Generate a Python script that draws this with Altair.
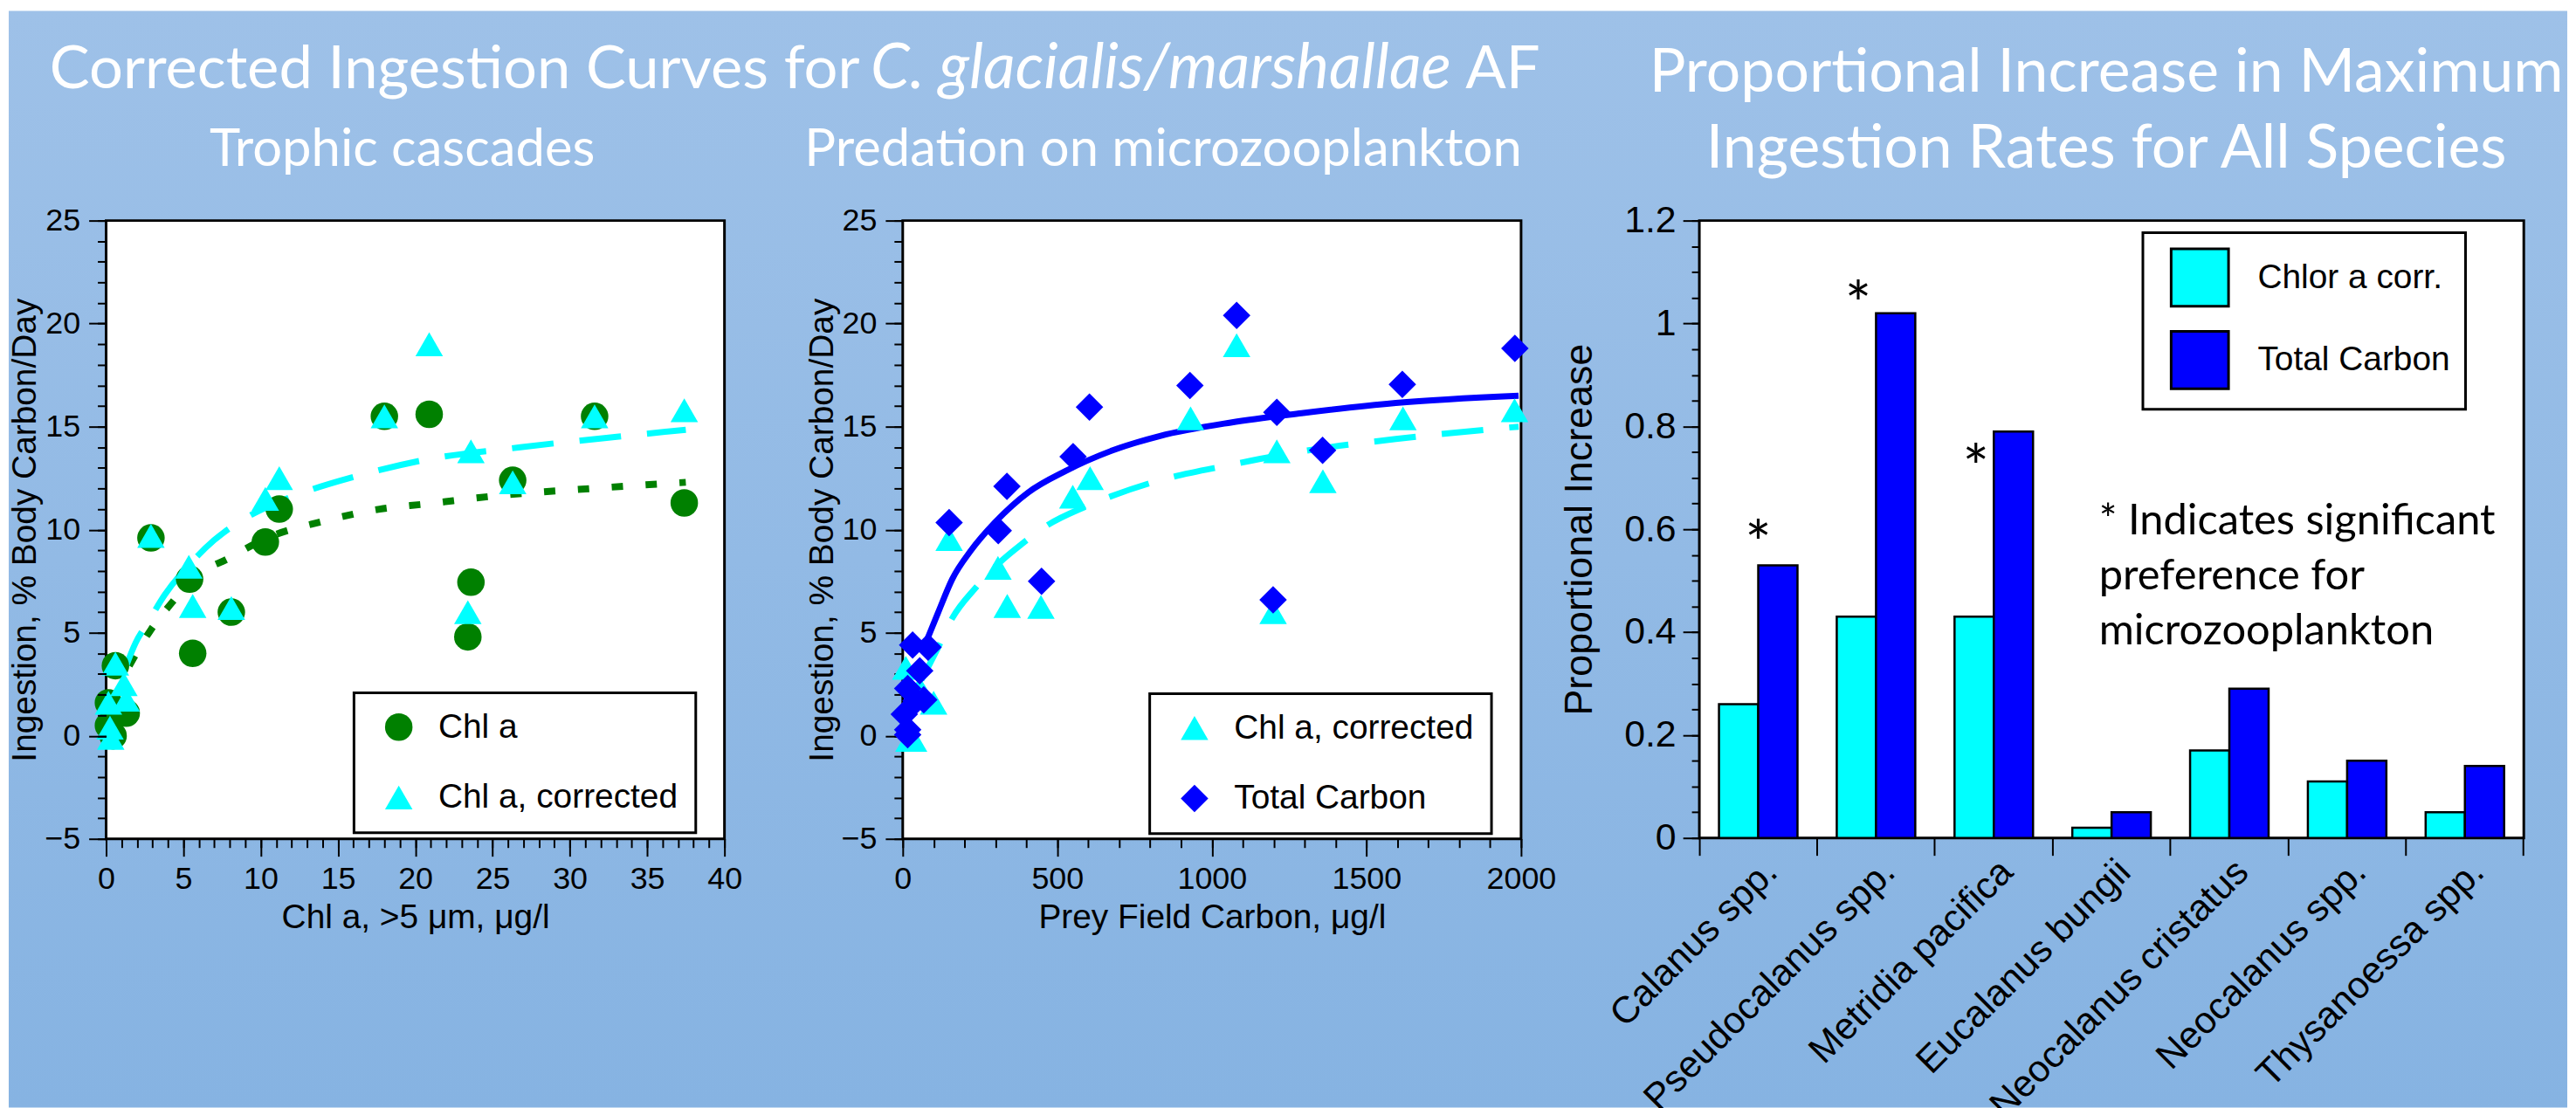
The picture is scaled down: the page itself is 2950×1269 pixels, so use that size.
import altair as alt
import pandas as pd

# ---------------- data ----------------
# Panel 1: Trophic cascades (x = Chl a >5um, y = ingestion)
p1_chl_x = [0.15, 0.6, 0.15, 0.45, 1.3, 2.9, 5.4, 5.6, 8.1, 10.3, 11.2, 18.0, 20.9, 23.6, 23.4, 26.3, 31.6, 37.4]
p1_chl_y = [1.6, 3.4, 0.5, 0.0, 1.1, 9.6, 7.6, 4.0, 6.0, 9.4, 11.0, 15.5, 15.6, 7.45, 4.8, 12.4, 15.5, 11.3]
p1_cor_x = [0.6, 0.15, 1.15, 1.3, 0.25, 0.3, 2.9, 5.35, 5.6, 8.1, 10.3, 11.2, 18.0, 20.9, 23.6, 23.4, 26.3, 31.6, 37.4]
p1_cor_y = [3.5, 1.6, 2.5, 1.75, 0.4, -0.1, 9.7, 8.2, 6.3, 6.2, 11.5, 12.5, 15.5, 19.0, 13.8, 6.0, 12.3, 15.5, 15.8]
p1_fit_cor_x = [1.2, 1.9, 2.7, 3.8, 5.5, 7.0, 9.1, 11.0, 13.1, 16.2, 20.7, 26.8, 32.9, 37.5]
p1_fit_cor_y = [3.2, 4.5, 5.5, 6.85, 8.4, 9.5, 10.6, 11.3, 11.9, 12.6, 13.4, 14.0, 14.5, 14.85]
p1_fit_chl_x = [1.5, 2.9, 4.3, 5.7, 7.9, 10.4, 14.0, 17.7, 20.7, 25.3, 31.4, 37.5]
p1_fit_chl_y = [3.4, 5.15, 6.5, 7.7, 8.6, 9.6, 10.4, 11.0, 11.25, 11.65, 12.0, 12.3]

# Panel 2: Predation on microzooplankton (x = prey field carbon)
p2_cor_x = [10, 55, 70, 100, 20, 35, 150, 308, 338, 447, 550, 606, 931, 1080, 1210, 1198, 1359, 1618, 1979]
p2_cor_y = [3.3, 2.3, 1.9, 1.6, -0.2, -0.2, 9.55, 8.15, 6.3, 6.25, 11.6, 12.5, 15.4, 18.95, 13.8, 6.0, 12.35, 15.4, 15.8]
p2_tc_x = [32, 82, 55, 16, 43, 68, 5, 16, 16, 150, 309, 337, 449, 551, 604, 929, 1080, 1210, 1198, 1358, 1616, 1980]
p2_tc_y = [4.4, 4.3, 3.15, 2.3, 1.7, 1.75, 1.05, 0.3, 0.05, 10.35, 9.95, 12.1, 7.5, 13.55, 15.95, 17.0, 20.4, 15.7, 6.6, 13.85, 17.05, 18.8]
p2_fit_tc_x = [77, 115, 160, 221, 298, 405, 527, 679, 832, 1061, 1290, 1595, 1992]
p2_fit_tc_y = [4.6, 6.0, 7.6, 9.0, 10.35, 11.8, 12.85, 13.85, 14.55, 15.2, 15.65, 16.15, 16.5]
p2_fit_cor_x = [60, 115, 160, 237, 313, 389, 466, 588, 679, 832, 1061, 1290, 1595, 1992]
p2_fit_cor_y = [2.7, 4.3, 5.7, 7.2, 8.4, 9.35, 10.2, 11.1, 11.65, 12.4, 13.15, 13.8, 14.4, 15.0]

# Panel 3: proportional increase in maximum ingestion
species = ["Calanus spp.", "Pseudocalanus spp.", "Metridia pacifica", "Eucalanus bungii",
           "Neocalanus cristatus", "Neocalanus spp.", "Thysanoessa spp."]
series3 = ["Chlor a corr.", "Total Carbon"]
chl_corr = [0.26, 0.43, 0.43, 0.02, 0.17, 0.11, 0.05]
total_carbon = [0.53, 1.02, 0.79, 0.05, 0.29, 0.15, 0.14]
sig_mid_species = ["Calanus spp."]
sig_mid_y = [0.529]
sig_left_species = ["Pseudocalanus spp.", "Metridia pacifica"]
sig_left_y = [0.994, 0.676]

# ticks
p1_x_major = [0, 5, 10, 15, 20, 25, 30, 35, 40]
p1_x_minor = list(range(0, 41))
p2_x_major = [0, 500, 1000, 1500, 2000]
p2_x_minor = list(range(0, 2001, 100))
y12_major = [-5, 0, 5, 10, 15, 20, 25]
y12_minor = list(range(-5, 26))
p3_y_major = [0, 0.2, 0.4, 0.6, 0.8, 1.0, 1.2]
p3_y_minor = [round(i * 0.05, 2) for i in range(25)]

# ---------------- style ----------------
HEAD = "Lato"
AX = "Liberation Sans"
CYAN, GREEN, BLUE = "#00FFFF", "#008000", "#0000FF"
BG_TOP, BG_BOTTOM = "#9EC1E8", "#86B3E2"
W1, H1 = 711, 711
W3, H3 = 948, 710
ONE = alt.Data(values=[{"k": 0}])


def ax_major(orient, values, title, lsize=36, tsize=39, lpad=9, tpad=8, tick=20, fmt=None, z=1):
    kw = dict(orient=orient, values=values, tickSize=tick, labelFontSize=lsize, labelPadding=lpad,
              labelFlush=False, labelOverlap=False, title=title, titleFontSize=tsize,
              titlePadding=tpad, zindex=z)
    if fmt:
        kw["format"] = fmt
    return alt.Axis(**kw)


def ax_minor(orient, values, tick=10, z=1):
    return alt.Axis(orient=orient, values=values, tickSize=tick, labels=False, title=None, zindex=z)


def label(text, x, y, size, align="center", style="normal", color="white", font=HEAD, lh=None):
    kw = dict(text=text, align=align, baseline="alphabetic", font=font, fontSize=size,
              fontStyle=style, color=color)
    if lh:
        kw["lineHeight"] = lh
    return alt.Chart(ONE).mark_text(**kw).encode(x=alt.value(x), y=alt.value(y))


def legend12(lx, ly):
    return alt.Legend(title=None, orient="none", legendX=lx, legendY=ly, padding=20,
                      symbolOffset=12, labelOffset=26, rowPadding=41, labelFont=AX,
                      labelFontSize=39, labelColor="black", fillColor="white",
                      strokeColor="black", symbolSize=1000, symbolOpacity=1, labelLimit=1000,
                      labelExpr="datum.label + '\u00a0\u00a0'")


# ---------------- panel 1 ----------------
sx1 = alt.Scale(domain=[0, 40], nice=False, zero=False)
sy12 = alt.Scale(domain=[-5, 25], nice=False, zero=False)

bg = alt.Chart(ONE).mark_rect(
    fill={"gradient": "linear", "x1": 0, "y1": 0, "x2": 0, "y2": 1,
          "stops": [{"offset": 0, "color": BG_TOP}, {"offset": 1, "color": BG_BOTTOM}]},
    strokeWidth=0,
).encode(x=alt.value(-112), x2=alt.value(2830), y=alt.value(-241), y2=alt.value(1020))

frame1 = alt.Chart(ONE).mark_rect(fill="white", stroke="black", strokeWidth=3).encode(
    x=alt.value(0), x2=alt.value(W1), y=alt.value(0), y2=alt.value(H1))

fit1_cor = alt.Chart(pd.DataFrame({"x": p1_fit_cor_x, "y": p1_fit_cor_y})).mark_line(
    color=CYAN, strokeWidth=7, strokeDash=[48, 30], interpolate="monotone", strokeCap="butt"
).encode(x=alt.X("x:Q", scale=sx1, axis=ax_minor("bottom", p1_x_minor)),
         y=alt.Y("y:Q", scale=sy12, axis=ax_minor("left", y12_minor)))

fit1_chl = alt.Chart(pd.DataFrame({"x": p1_fit_chl_x, "y": p1_fit_chl_y})).mark_line(
    color=GREEN, strokeWidth=8, strokeDash=[13, 26], interpolate="monotone", strokeCap="butt"
).encode(x=alt.X("x:Q", scale=sx1, axis=None), y=alt.Y("y:Q", scale=sy12, axis=None))

dom1 = ["Chl a", "Chl a, corrected"]
df1 = pd.DataFrame({"x": p1_chl_x + p1_cor_x, "y": p1_chl_y + p1_cor_y,
                    "s": [dom1[0]] * len(p1_chl_x) + [dom1[1]] * len(p1_cor_x)})
pts1 = alt.Chart(df1).mark_point(filled=True, size=1000, opacity=1).encode(
    x=alt.X("x:Q", scale=sx1, axis=ax_major("bottom", p1_x_major, "Chl a, >5 \u03bcm, \u03bcg/l", tpad=7)),
    y=alt.Y("y:Q", scale=sy12, axis=ax_major("left", y12_major, "Ingestion, % Body Carbon/Day", lpad=10, tpad=2)),
    color=alt.Color("s:N", scale=alt.Scale(domain=dom1, range=[GREEN, CYAN]), legend=legend12(285, 543)),
    shape=alt.Shape("s:N", scale=alt.Scale(domain=dom1, range=["circle", "triangle-up"]), legend=legend12(285, 543)),
)

title_a = label("Corrected Ingestion Curves for", -65, -152, 69, align="left")
title_b = label("C. glacialis/marshallae", 879, -152, 72, align="left", style="italic")
title_c = label("AF", 1563, -152, 69, align="left")
sub1 = label("Trophic cascades", 340.5, -63, 60)

panel1 = alt.layer(bg, frame1, fit1_chl, fit1_cor, pts1, title_a, title_b, title_c, sub1).resolve_axis(
    x="independent", y="independent").properties(width=W1, height=H1)

# ---------------- panel 2 ----------------
sx2 = alt.Scale(domain=[0, 2000], nice=False, zero=False)

fit2_cor = alt.Chart(pd.DataFrame({"x": p2_fit_cor_x, "y": p2_fit_cor_y})).mark_line(
    color=CYAN, strokeWidth=7, strokeDash=[48, 30], interpolate="monotone", strokeCap="butt"
).encode(x=alt.X("x:Q", scale=sx2, axis=ax_minor("bottom", p2_x_minor, z=0)),
         y=alt.Y("y:Q", scale=sy12, axis=ax_minor("left", y12_minor, z=0)))

fit2_tc = alt.Chart(pd.DataFrame({"x": p2_fit_tc_x, "y": p2_fit_tc_y})).mark_line(
    color=BLUE, strokeWidth=7, interpolate="monotone"
).encode(x=alt.X("x:Q", scale=sx2, axis=None), y=alt.Y("y:Q", scale=sy12, axis=None))

dom2 = ["Chl a, corrected", "Total Carbon"]
df2 = pd.DataFrame({"x": p2_cor_x + p2_tc_x, "y": p2_cor_y + p2_tc_y,
                    "s": [dom2[0]] * len(p2_cor_x) + [dom2[1]] * len(p2_tc_x)})
pts2 = alt.Chart(df2).mark_point(filled=True, size=1000, opacity=1).encode(
    x=alt.X("x:Q", scale=sx2, axis=ax_major("bottom", p2_x_major, "Prey Field Carbon, \u03bcg/l", tpad=7, fmt="d", z=0)),
    y=alt.Y("y:Q", scale=sy12, axis=ax_major("left", y12_major, "Ingestion, % Body Carbon/Day", lpad=10, tpad=2, z=0)),
    color=alt.Color("s:N", scale=alt.Scale(domain=dom2, range=[CYAN, BLUE]), legend=legend12(284, 544)),
    shape=alt.Shape("s:N", scale=alt.Scale(domain=dom2, range=["triangle-up", "diamond"]), legend=legend12(284, 544)),
)

sub2 = label("Predation on microzooplankton", 299.5, -63, 60)

panel2 = alt.layer(fit2_cor, fit2_tc, pts2, sub2).resolve_axis(
    x="independent", y="independent").properties(width=W1, height=H1)

# ---------------- panel 3 ----------------
sx3 = alt.Scale(paddingInner=0, paddingOuter=0)
sxo3 = alt.Scale(paddingInner=0, paddingOuter=0.5)
sy3 = alt.Scale(domain=[0, 1.2], nice=False, zero=True)

df3 = pd.DataFrame({"species": species * 2,
                    "series": [series3[0]] * len(species) + [series3[1]] * len(species),
                    "v": chl_corr + total_carbon})

bars = alt.Chart(df3).mark_bar(stroke="black", strokeWidth=2.5).encode(
    x=alt.X("species:N", sort=species, scale=sx3,
            axis=alt.Axis(orient="bottom", title=None, labelAngle=-45, labelFontSize=43,
                          labelAlign="right", labelBaseline="middle",
                          bandPosition=1, tickExtra=True, labelOffset=15, tickSize=20,
                          labelPadding=12, labelOverlap=False, labelFlush=False, labelLimit=1000)),
    xOffset=alt.XOffset("series:N", sort=series3, scale=sxo3),
    y=alt.Y("v:Q", scale=sy3, axis=ax_major("left", p3_y_major, "Proportional Increase", lsize=43,
                                            tsize=45, lpad=8, tpad=28, tick=19, fmt="~g", z=0)),
    color=alt.Color("series:N", scale=alt.Scale(domain=series3, range=[CYAN, BLUE]),
                    legend=alt.Legend(title=None, orient="none", legendX=510, legendY=14, padding=17,
                                      symbolType="square", symbolSize=4356, symbolStrokeColor="black",
                                      symbolStrokeWidth=3, symbolOffset=14, labelOffset=32,
                                      rowPadding=16, labelFont=AX, labelFontSize=39,
                                      labelColor="black", fillColor="white", strokeColor="black",
                                      symbolOpacity=1, labelLimit=1000,
                                      labelExpr="datum.label + '\u00a0'")),
)

star_mid = alt.Chart(pd.DataFrame({"species": sig_mid_species, "v": sig_mid_y})).mark_text(
    text="*", font=HEAD, fontSize=72, baseline="alphabetic", align="center", color="black"
).encode(x=alt.X("species:N", sort=species, scale=sx3, axis=None),
         y=alt.Y("v:Q", scale=sy3, axis=ax_minor("left", p3_y_minor, tick=9, z=0)))

star_left = alt.Chart(pd.DataFrame({"species": sig_left_species, "v": sig_left_y,
                                    "series": [series3[0]] * len(sig_left_species)})).mark_text(
    text="*", font=HEAD, fontSize=72, baseline="alphabetic", align="center", color="black", dx=2
).encode(x=alt.X("species:N", sort=species, scale=sx3, axis=None),
         xOffset=alt.XOffset("series:N", sort=series3, scale=sxo3),
         y=alt.Y("v:Q", scale=sy3, axis=None))

t3a = label("Proportional Increase in Maximum", 468, -148, 70)
t3b = label("Ingestion Rates for All Species", 468, -61, 70)
note = label(["* Indicates significant", "preference for", "microzooplankton"], 459.5, 361, 49,
             align="left", color="black", lh=63.3)

panel3 = alt.layer(bars, star_mid, star_left, t3a, t3b, note).resolve_axis(
    x="independent", y="independent").properties(width=W3, height=H3)

# ---------------- assemble ----------------
chart = alt.hconcat(panel1, panel2, panel3, spacing=205, bounds="flush").resolve_scale(
    color="independent", shape="independent"
).properties(padding=0, background="transparent").configure_axis(
    labelFont=AX, titleFont=AX, labelColor="black", titleColor="black", tickColor="black",
    tickWidth=2, domain=False, grid=False, titleFontWeight="normal"
).configure_view(
    stroke="black", strokeWidth=3, fill="white"
).configure_legend(
    strokeWidth=3
)

chart.save("out.html", embed_options={"renderer": "svg", "actions": False})
